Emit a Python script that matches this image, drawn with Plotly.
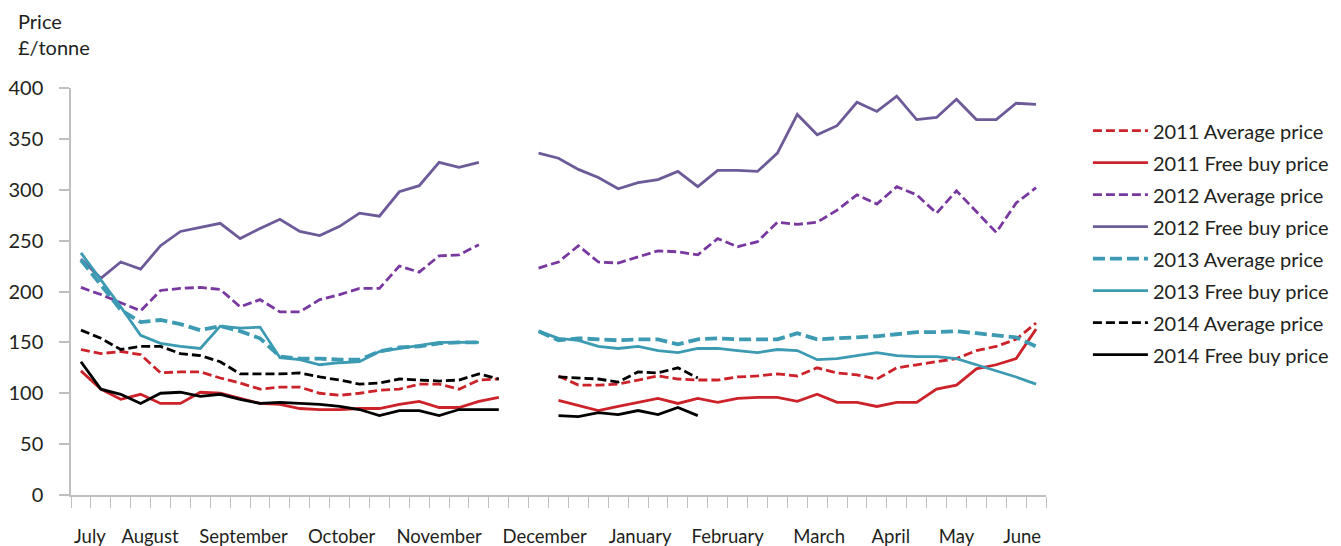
import plotly.graph_objects as go

# ─────────────────────────────────────────────
# Data (weekly prices, £/tonne; None = no data)
# ─────────────────────────────────────────────

weeks = list(range(49))

avg_2011 = [143, 139, 141, 138, 120, 121, 121, 115, 110, 104, 106, 106, 100, 98, 100, 103, 104, 109, 109, 104, 113, 114,
            None, None,
            117, 108, 108, 109, 113, 117, 114, 113, 113, 116, 117, 119, 117, 125, 120, 118, 114, 125, 128, 131, 134, 142, 146, 153, 169]
free_2011 = [122, 104, 94, 99, 90, 90, 101, 100, 95, 90, 89, 85, 84, 84, 85, 85, 89, 92, 86, 86, 92, 96,
             None, None,
             93, 88, 83, 87, 91, 95, 90, 95, 91, 95, 96, 96, 92, 99, 91, 91, 87, 91, 91, 104, 108, 124, 128, 134, 163]
avg_2012 = [204, 197, 189, 181, 201, 203, 204, 202, 185, 192, 180, 180, 192, 197, 203, 203, 225, 219, 235, 236, 246,
            None, None,
            223, 229, 245, 229, 228, 234, 240, 239, 236, 252, 244, 249, 268, 266, 268, 280, 295, 286, 303, 295, 277, 299, 278, 258, 287, 302]
free_2012 = [232, 213, 229, 222, 245, 259, 263, 267, 252, 262, 271, 259, 255, 264, 277, 274, 298, 304, 327, 322, 327,
             None, None,
             336, 331, 320, 312, 301, 307, 310, 318, 303, 319, 319, 318, 336, 374, 354, 363, 386, 377, 392, 369, 371, 389, 369, 369, 385, 384]
avg_2013 = [231, 206, 182, 170, 172, 168, 162, 166, 161, 154, 136, 134, 134, 133, 133, 141, 145, 146, 149, 150, 150,
            None, None,
            161, 152, 154, 153, 152, 153, 153, 148, 153, 154, 153, 153, 153, 159, 153, 154, 155, 156, 158, 160, 160, 161, 159, 157, 155, 146]
free_2013 = [238, 212, 185, 157, 149, 146, 144, 166, 164, 165, 135, 133, 128, 130, 131, 141, 144, 147, 150, 150, 150,
             None, None,
             161, 154, 152, 146, 144, 146, 142, 140, 144, 144, 142, 140, 143, 142, 133, 134, 137, 140, 137, 136, 136, 134, 128, 122, 116, 109]
avg_2014 = [162, 154, 143, 146, 146, 139, 137, 131, 119, 119, 119, 120, 116, 113, 109, 110, 114, 113, 112, 113, 119, 114,
            None, None,
            116, 115, 114, 111, 121, 120, 125, 115] + [None] * 17
free_2014 = [131, 104, 99, 90, 100, 101, 97, 99, 94, 90, 91, 90, 89, 87, 84, 78, 83, 83, 78, 84, 84, 84,
             None, None,
             78, 77, 81, 79, 83, 79, 86, 78] + [None] * 17

month_labels = ["July", "August", "September", "October", "November", "December",
                "January", "February", "March", "April", "May", "June"]
month_pos = [0.45, 3.47, 8.17, 13.1, 18.0, 23.3, 28.1, 32.5, 37.1, 40.7, 44.0, 47.3]
week_edges = [w - 0.5 for w in weeks] + [weeks[-1] + 0.5]
y_ticks = [0, 50, 100, 150, 200, 250, 300, 350, 400]

# ─────────────────────────────────────────────
# Style
# ─────────────────────────────────────────────

COLORS = {
    "red":        "#cc2229",
    "purple_avg": "#7838a0",
    "purple":     "#6d5a98",
    "teal":       "#3c9ab3",
    "black":      "#000000",
    "axis":       "#bfbfbf",
    "text":       "#231f20",
}
FONT = "Lato, 'Open Sans', sans-serif"

series = [
    ("2011 Average price", avg_2011, COLORS["red"], "9px,4px", 2.8),
    ("2011 Free buy price", free_2011, COLORS["red"], "solid", 2.8),
    ("2012 Average price", avg_2012, COLORS["purple_avg"], "9px,4px", 2.8),
    ("2012 Free buy price", free_2012, COLORS["purple"], "solid", 2.8),
    ("2013 Average price", avg_2013, COLORS["teal"], "12px,5px", 3.8),
    ("2013 Free buy price", free_2013, COLORS["teal"], "solid", 2.8),
    ("2014 Average price", avg_2014, COLORS["black"], "9px,4px", 2.8),
    ("2014 Free buy price", free_2014, COLORS["black"], "solid", 2.8),
]

fig = go.Figure()
for name, vals, color, dash, width in series:
    fig.add_trace(go.Scatter(
        x=weeks, y=vals, name=name, mode="lines",
        line=dict(color=color, dash=dash, width=width),
        connectgaps=False, legendgroup=name,
    ))

# page body adds an 8px offset, margins below compensate for it
fig.update_layout(
    width=1341, height=546,
    paper_bgcolor="white", plot_bgcolor="white",
    font=dict(family=FONT, size=20, color=COLORS["text"]),
    margin=dict(l=63, r=303, t=80, b=59, autoexpand=False),
    xaxis=dict(
        range=[-0.5, 48.5], tickmode="array", tickvals=month_pos, ticktext=month_labels,
        ticks="", showgrid=False, zeroline=False, automargin=False,
        showline=True, linecolor=COLORS["axis"], linewidth=1.5,
        tickfont=dict(size=18.5), ticklabelstandoff=24,
        minor=dict(tickmode="array", tickvals=week_edges, ticks="outside", ticklen=11,
                   tickcolor=COLORS["axis"], tickwidth=1, showgrid=False),
    ),
    yaxis=dict(
        range=[0, 400], tickmode="array", tickvals=y_ticks,
        ticks="outside", ticklen=10, tickcolor=COLORS["axis"], tickwidth=1.5,
        showgrid=False, zeroline=False, automargin=False,
        showline=True, linecolor=COLORS["axis"], linewidth=1.5,
        ticklabelstandoff=12,
    ),
    legend=dict(
        x=1.043, xanchor="left", y=0.943, yanchor="top",
        font=dict(size=20), itemwidth=55, tracegroupgap=3,
        bgcolor="rgba(0,0,0,0)",
    ),
    annotations=[dict(
        text="Price<br>£/tonne", xref="paper", yref="paper", x=-0.056, y=1.20,
        xanchor="left", yanchor="top", showarrow=False, align="left",
        font=dict(size=20, color=COLORS["text"]),
    )],
)

fig.write_html("out.html")
